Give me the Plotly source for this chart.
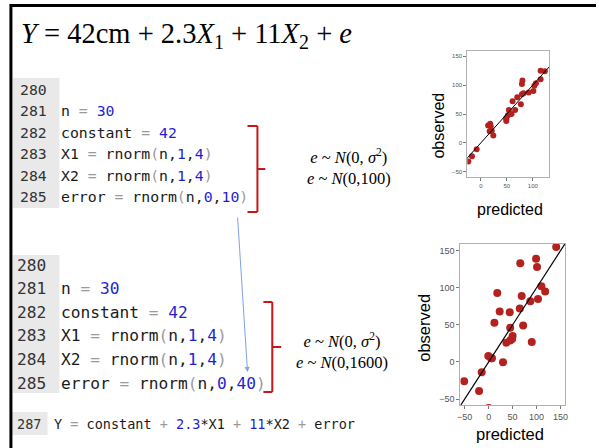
import plotly.graph_objects as go

W, H = 599, 448

# ---------------- data ----------------
pred_small = [-24, -17, -8, 14, 18, 17, 21, 24, 49, 49, 49, 54, 59, 61, 66, 70, 77, 79, 80, 79, 82, 92, 101, 103, 106, 115, 115, 123, 52, 19]
obs_small = [-32, -23, -11, 30, 33, 20, 21, 13, 43, 41, 38, 57, 50, 72, 57, 79, 67, 102, 108, 84, 86, 87, 90, 99, 103, 125, 110, 124, 48, 29]

pred_large = [-51, -20, -14.5, -0.7, 5, 7, 0, 12, 18, 23, 30, 37, 44, 45, 45, 50, 49, 66, 65, 69, 72, 87, 90, 99, 101, 110, 103, 118, 141]
obs_large = [-26, -39, -14, 8, 5, 5, -62, 53, 93, 68, -0.4, 26, 67, 29, 46, 35, 31, 133, 72, 89, 49, 82, 27, 139, 128, 102, 85, 95, 155]

ticks_small_x = [0, 50, 100]
ticks_small_y = [-50, 0, 50, 100, 150]
ticks_large = [-50, 0, 50, 100, 150]

line_numbers = ["280", "281", "282", "283", "284", "285"]
code_block_1 = ["", "n = 30", "constant = 42", "X1 = rnorm(n,1,4)", "X2 = rnorm(n,1,4)", "error = rnorm(n,0,10)"]
code_block_2 = ["", "n = 30", "constant = 42", "X1 = rnorm(n,1,4)", "X2 = rnorm(n,1,4)", "error = rnorm(n,0,40)"]
model_line_number = "287"
model_line = "Y = constant + 2.3*X1 + 11*X2 + error"

title_text = "<i>Y</i> = 42cm + 2.3<i>X</i><sub>1</sub> + 11<i>X</i><sub>2</sub> + <i>e</i>"
dist_1 = ["<i>e</i> ~ <i>N</i>(0, <i>σ</i><sup>2</sup>)", "<i>e</i> ~ <i>N</i>(0,100)"]
dist_2 = ["<i>e</i> ~ <i>N</i>(0, <i>σ</i><sup>2</sup>)", "<i>e</i> ~ <i>N</i>(0,1600)"]

# ---------------- helpers ----------------
def px(x):
    return x / W

def py(y):
    return 1 - y / H

BLUE = "#1f1fd6"
GRAY = "#9a9a9a"
DARK = "#1a1a1a"
RED = "#c8161b"
PT = "#b3221f"

def colorize(s):
    out = []
    i = 0
    while i < len(s):
        c = s[i]
        if c.isalpha():
            j = i
            while j < len(s) and (s[j].isalnum() or s[j] == "_"):
                j += 1
            out.append(f'<span style="color:{DARK}">{s[i:j]}</span>')
            i = j
        elif c.isdigit():
            j = i
            while j < len(s) and (s[j].isdigit() or s[j] == "."):
                j += 1
            out.append(f'<span style="color:{BLUE}">{s[i:j]}</span>')
            i = j
        elif c in "=+()":
            out.append(f'<span style="color:{GRAY}">{c}</span>')
            i += 1
        else:
            out.append(f'<span style="color:{DARK}">{c}</span>')
            i += 1
    return "".join(out)

fig = go.Figure()

# scatter 1
fig.add_trace(go.Scatter(x=pred_small, y=obs_small, mode="markers",
                         marker=dict(color=PT, size=6), xaxis="x", yaxis="y",
                         showlegend=False, hoverinfo="skip"))
fig.add_trace(go.Scatter(x=[-60, 180], y=[-60, 180], mode="lines",
                         line=dict(color="black", width=1), xaxis="x", yaxis="y",
                         showlegend=False, hoverinfo="skip"))
# scatter 2
fig.add_trace(go.Scatter(x=pred_large, y=obs_large, mode="markers",
                         marker=dict(color=PT, size=8), xaxis="x2", yaxis="y2",
                         showlegend=False, hoverinfo="skip"))
fig.add_trace(go.Scatter(x=[-80, 180], y=[-80, 180], mode="lines",
                         line=dict(color="black", width=1.2), xaxis="x2", yaxis="y2",
                         showlegend=False, hoverinfo="skip"))

axis_common = dict(showgrid=False, zeroline=False, showline=True, linecolor="#b0b0b0",
                   linewidth=1, mirror=True, ticks="outside", tickcolor="#777",
                   ticklen=3, tickwidth=1)

fig.update_layout(
    width=W, height=H, margin=dict(l=0, r=0, t=0, b=0),
    paper_bgcolor="white", plot_bgcolor="white",
    xaxis=dict(domain=[px(469), px(552)], range=[-26, 132], tickvals=ticks_small_x,
               tickfont=dict(size=6, color="#555", family="Liberation Sans"), anchor="y", **axis_common),
    yaxis=dict(domain=[py(177), py(51)], range=[-59, 159], tickvals=ticks_small_y,
               tickfont=dict(size=6, color="#555", family="Liberation Sans"), anchor="x", **axis_common),
    xaxis2=dict(domain=[px(462), px(568)], range=[-59, 160], tickvals=ticks_large,
                tickfont=dict(size=9, color="#555", family="Liberation Sans"), anchor="y2", **axis_common),
    yaxis2=dict(domain=[py(405), py(244)], range=[-58, 159], tickvals=ticks_large,
                tickfont=dict(size=9, color="#555", family="Liberation Sans"), anchor="x2", **axis_common),
)

shapes = []
ann = []

# frame
shapes.append(dict(type="line", xref="paper", yref="paper", x0=px(7), x1=px(W), y0=py(5.5), y1=py(5.5),
                   line=dict(color="black", width=3)))
shapes.append(dict(type="line", xref="paper", yref="paper", x0=px(8), x1=px(8), y0=py(4), y1=py(H),
                   line=dict(color="black", width=3)))

# gutters
for (x0, x1, y0, y1) in [(10, 57, 78, 208), (10, 57, 255, 393), (9, 45, 412, 435)]:
    shapes.append(dict(type="rect", xref="paper", yref="paper", x0=px(x0), x1=px(x1), y0=py(y1), y1=py(y0),
                       fillcolor="#e9e9e9", line=dict(width=0), layer="below"))

# brackets
def bracket(xl, xv, xt, ytop, ybot, ymid):
    pts = [(xl, ytop, xv, ytop), (xv, ytop, xv, ybot), (xl, ybot, xv, ybot), (xv, ymid, xt, ymid)]
    for (a, b, c, d) in pts:
        shapes.append(dict(type="line", xref="paper", yref="paper", x0=px(a), y0=py(b), x1=px(c), y1=py(d),
                           line=dict(color=RED, width=2)))

bracket(247, 257, 265, 126, 212, 169)
bracket(263, 272, 281, 302, 392, 347)

fig.update_layout(shapes=shapes)

# title
ann.append(dict(x=px(16), y=py(35), xref="paper", yref="paper", xanchor="left", yanchor="middle",
                text=title_text, showarrow=False,
                font=dict(family="Liberation Serif", size=28.5, color="black")))

# code block 1
mono = "DejaVu Sans Mono"
for i, (num, code) in enumerate(zip(line_numbers, code_block_1)):
    yc = 89 + 21.6 * i
    ann.append(dict(x=px(15), y=py(yc), xref="paper", yref="paper", xanchor="left", yanchor="middle",
                    text=num, showarrow=False, font=dict(family=mono, size=14.8, color="#333")))
    if code:
        ann.append(dict(x=px(57), y=py(yc), xref="paper", yref="paper", xanchor="left", yanchor="middle",
                        text=colorize(code), showarrow=False, font=dict(family=mono, size=14.8, color=DARK)))

# code block 2
for i, (num, code) in enumerate(zip(line_numbers, code_block_2)):
    yc = 265 + 23.6 * i
    ann.append(dict(x=px(12), y=py(yc), xref="paper", yref="paper", xanchor="left", yanchor="middle",
                    text=num, showarrow=False, font=dict(family=mono, size=16.2, color="#333")))
    if code:
        ann.append(dict(x=px(57), y=py(yc), xref="paper", yref="paper", xanchor="left", yanchor="middle",
                        text=colorize(code), showarrow=False, font=dict(family=mono, size=16.2, color=DARK)))

# model line
ann.append(dict(x=px(12), y=py(424), xref="paper", yref="paper", xanchor="left", yanchor="middle",
                text=model_line_number, showarrow=False, font=dict(family=mono, size=13.5, color="#333")))
ann.append(dict(x=px(49), y=py(424), xref="paper", yref="paper", xanchor="left", yanchor="middle",
                text=colorize(model_line), showarrow=False, font=dict(family=mono, size=13.5, color=DARK)))

# distributions (two lines in one text block each)
ann.append(dict(x=px(350), y=py(167), xref="paper", yref="paper", xanchor="center", yanchor="middle",
                text="<br>".join(dist_1), showarrow=False, align="center",
                font=dict(family="Liberation Serif", size=16.5, color="black")))
ann.append(dict(x=px(342), y=py(351), xref="paper", yref="paper", xanchor="center", yanchor="middle",
                text="<br>".join(dist_2), showarrow=False, align="center",
                font=dict(family="Liberation Serif", size=16.5, color="black")))

# arrow
ann.append(dict(x=px(247), y=py(372), xref="paper", yref="paper", ax=-10, ay=-156, axref="pixel", ayref="pixel",
                text="", showarrow=True, arrowhead=2, arrowsize=1, arrowwidth=1, arrowcolor="#7fa3e0"))

# axis titles
sans = "Liberation Sans"
ann.append(dict(x=px(439), y=py(126), xref="paper", yref="paper", text="observed", textangle=-90,
                showarrow=False, xanchor="center", yanchor="middle", font=dict(family=sans, size=16, color="black")))
ann.append(dict(x=px(512), y=py(209), xref="paper", yref="paper", text="predicted",
                showarrow=False, xanchor="center", yanchor="middle", font=dict(family=sans, size=16, color="black")))
ann.append(dict(x=px(425), y=py(328), xref="paper", yref="paper", text="observed", textangle=-90,
                showarrow=False, xanchor="center", yanchor="middle", font=dict(family=sans, size=16.5, color="black")))
ann.append(dict(x=px(512), y=py(434), xref="paper", yref="paper", text="predicted",
                showarrow=False, xanchor="center", yanchor="middle", font=dict(family=sans, size=16.5, color="black")))

fig.update_layout(annotations=ann)

fig.write_html("out.html")
